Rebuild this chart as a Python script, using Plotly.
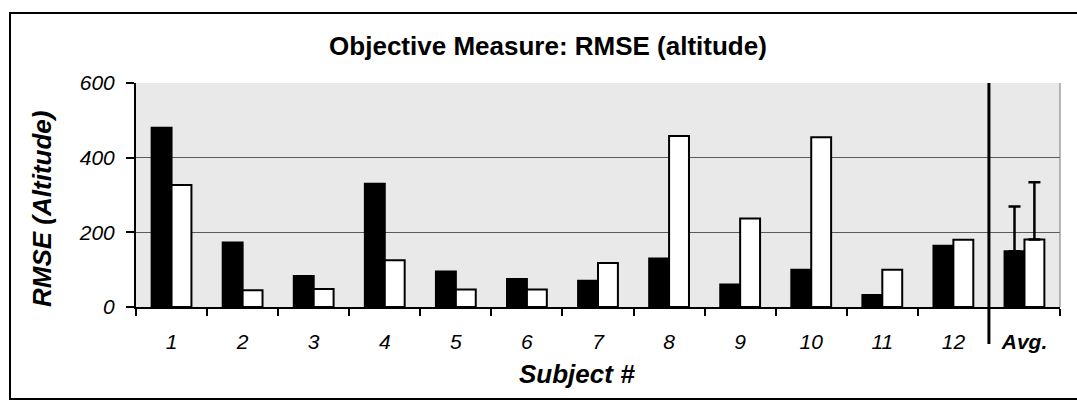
import plotly.graph_objects as go

# Per-subject RMSE of altitude for the two conditions
subjects = ["1", "2", "3", "4", "5", "6", "7", "8", "9", "10", "11", "12"]
rmse_black = [480, 173, 83, 330, 95, 75, 70, 130, 60, 100, 32, 164]
rmse_white = [327, 45, 48, 125, 47, 47, 118, 458, 237, 455, 100, 180]

# Averages across subjects and their standard deviations
avg_label = "Avg."
avg_black = 149
avg_white = 181
sd_black = 120
sd_white = 153

categories = subjects + [avg_label]
y_ticks = [0, 200, 400, 600]

W, H = 1077, 406
ML, MR, MT, MB = 136, 17, 83, 99
PW, PH = W - ML - MR, H - MT - MB


def px_x(px):
    return (px - ML) / PW


def px_y(py):
    return (H - MB - py) / PH


FONT = "Liberation Sans, Arial, sans-serif"
bar_line = dict(color="black", width=2)

fig = go.Figure()
fig.add_trace(go.Bar(x=subjects, y=rmse_black, offsetgroup="a",
                     marker=dict(color="black", line=bar_line)))
fig.add_trace(go.Bar(x=subjects, y=rmse_white, offsetgroup="b",
                     marker=dict(color="white", line=bar_line)))
fig.add_trace(go.Bar(x=[avg_label], y=[avg_black], offsetgroup="a",
                     marker=dict(color="black", line=bar_line),
                     error_y=dict(type="data", symmetric=False, array=[sd_black],
                                  arrayminus=[0], color="black", thickness=2.5, width=6)))
fig.add_trace(go.Bar(x=[avg_label], y=[avg_white], offsetgroup="b",
                     marker=dict(color="white", line=bar_line),
                     error_y=dict(type="data", symmetric=False, array=[sd_white],
                                  arrayminus=[0], color="black", thickness=2.5, width=6)))

# Separator between the subjects and the average, one category from the right
sep_x = len(subjects) / len(categories)

fig.update_layout(
    width=W, height=H,
    margin=dict(l=ML, r=MR, t=MT, b=MB, pad=0),
    paper_bgcolor="white",
    plot_bgcolor="#e9e9e9",
    barmode="group",
    bargap=0.44,
    bargroupgap=0,
    showlegend=False,
    font=dict(family=FONT, color="black"),
    title=dict(text="<b>Objective Measure: RMSE (altitude)</b>",
               x=px_x(548), xref="paper", xanchor="center",
               y=1 - 46 / H, yref="container", yanchor="middle",
               font=dict(size=26, family=FONT, color="black")),
    xaxis=dict(
        type="category", categoryorder="array", categoryarray=categories,
        range=[-0.5, len(categories) - 0.5],
        tickmode="array", tickvals=categories,
        ticktext=subjects + ["<b>" + avg_label + "</b>"],
        tickson="boundaries", ticks="outside", ticklen=7, tickwidth=2,
        tickcolor="black",
        showline=True, linecolor="black", linewidth=2,
        showgrid=False, zeroline=False,
        tickfont=dict(size=21, family=FONT, style="italic"),
        ticklabelstandoff=15,
    ),
    yaxis=dict(
        range=[0, 600], tickmode="array", tickvals=y_ticks,
        ticks="outside", ticklen=8, tickwidth=2, tickcolor="black",
        showline=True, linecolor="black", linewidth=2,
        showgrid=True, gridcolor="#5a5a5a", gridwidth=1,
        zeroline=False,
        tickfont=dict(size=21, family=FONT, style="italic"),
        ticklabelstandoff=7,
    ),
    shapes=[
        # right edge of the plotting area
        dict(type="line", xref="paper", yref="paper", x0=1, x1=1, y0=0, y1=1,
             line=dict(color="#777777", width=1)),
        # separator before the average
        dict(type="line", xref="paper", yref="paper", x0=sep_x, x1=sep_x,
             y0=px_y(344), y1=1, line=dict(color="black", width=3)),
        # outer frame
        dict(type="rect", xref="paper", yref="paper",
             x0=px_x(10), x1=px_x(1085), y0=px_y(399), y1=px_y(13),
             line=dict(color="black", width=2), fillcolor="rgba(0,0,0,0)"),
    ],
    annotations=[
        dict(text="<b><i>Subject #</i></b>", xref="paper", yref="paper",
             x=px_x(577), y=px_y(374), showarrow=False,
             xanchor="center", yanchor="middle",
             font=dict(size=26, family=FONT)),
        dict(text="<b><i>RMSE (Altitude)</i></b>", xref="paper", yref="paper",
             x=px_x(42), y=px_y(209), showarrow=False, textangle=-90,
             xanchor="center", yanchor="middle",
             font=dict(size=26, family=FONT)),
    ],
)

fig.write_html("out.html")
